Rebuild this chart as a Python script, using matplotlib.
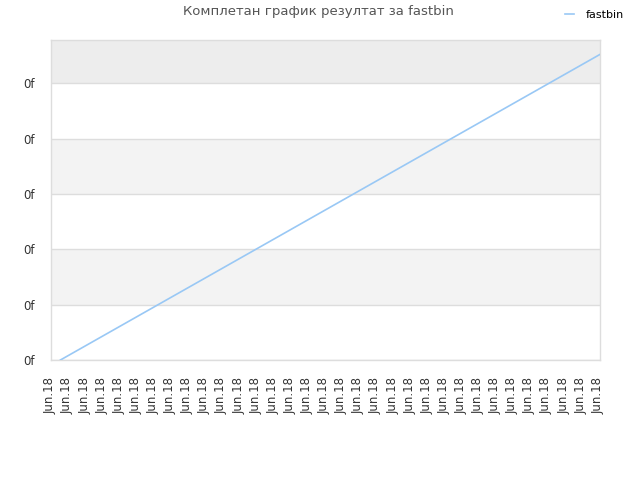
import matplotlib
matplotlib.use("Agg")
import matplotlib.pyplot as plt

title = "Комплетан график резултат за fastbin"
series_name = "fastbin"
tick_labels = ["Jun.18"] * 33
tick_pos = list(range(33))
line_x = [0.58, 32.12]
line_y = [0.0, 5.52]
y_ticks = [0, 1, 2, 3, 4, 5]
y_labels = ["0f"] * 6

fig = plt.figure(figsize=(6.4, 4.8), dpi=100)
ax = fig.add_axes([50.5/640, 1-360/480, (600-50.5)/640, 320/480])

# alternating bands
ax.axhspan(5, 5.78, color="#ededed", zorder=0, lw=0)
ax.axhspan(3, 4, color="#f3f3f3", zorder=0, lw=0)
ax.axhspan(1, 2, color="#f3f3f3", zorder=0, lw=0)
for yv in y_ticks:
    ax.axhline(yv, color="#dddddd", lw=1, zorder=1)

ax.plot(line_x, line_y, color="#99c8f5", lw=1.2, zorder=3, label=series_name)

ax.set_xlim(0, 32.12)
ax.set_ylim(0, 5.78)
ax.set_yticks(y_ticks)
ax.set_yticklabels(y_labels, fontsize=8.5, color="#333333")
ax.set_xticks(tick_pos)
ax.set_xticklabels(tick_labels, rotation=90, fontsize=8.5, color="#333333")
ax.tick_params(length=0)
ax.tick_params(axis="y", pad=11)
ax.tick_params(axis="x", pad=12)
for s in ax.spines.values():
    s.set_color("#dddddd")
    s.set_linewidth(1)

fig.text(318/640, 1-12/480, title, ha="center", va="center", fontsize=9.5, color="#555555")
leg = fig.legend(loc="upper right", bbox_to_anchor=(0.99, 1.0), frameon=False, fontsize=8,
                 handlelength=0.8, handletextpad=1.0)
fig.savefig("out.png", dpi=100)
